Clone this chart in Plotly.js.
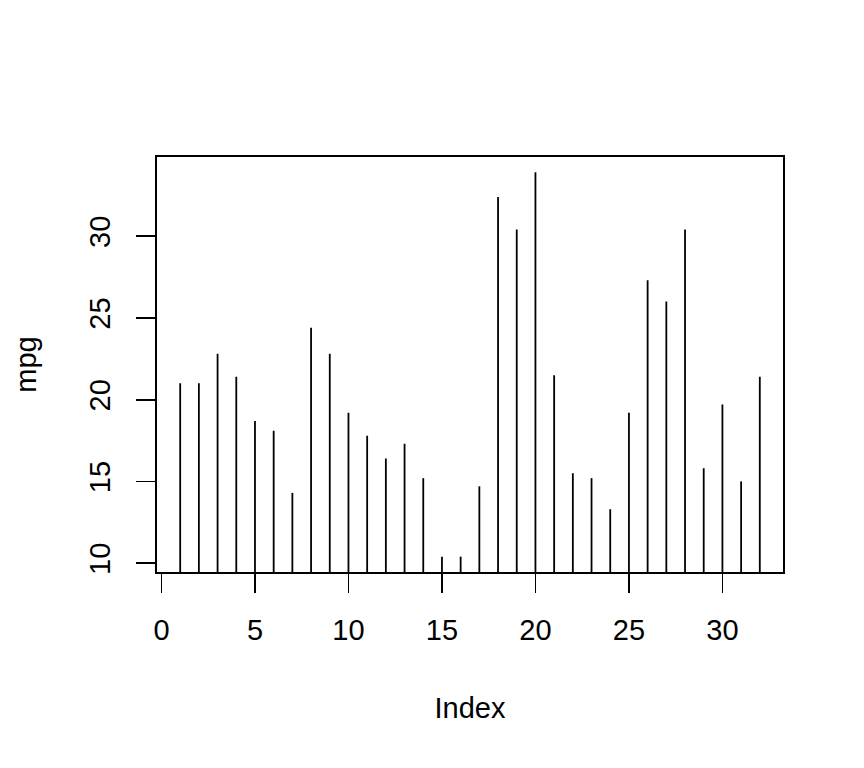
<!DOCTYPE html>
<html>
<head>
<meta charset="utf-8">
<script src="https://cdn.plot.ly/plotly-3.0.1.min.js"></script>
<style>html,body{margin:0;padding:0;background:#fff;}#chart{width:864px;height:768px;}</style>
</head>
<body>
<div id="chart"></div>
<script>
// mtcars mpg, plotted against its index with type = "h"
const index = Array.from({length: 32}, (_, i) => i + 1);
const mpg = [21.0, 21.0, 22.8, 21.4, 18.7, 18.1, 14.3, 24.4, 22.8, 19.2, 17.8, 16.4, 17.3, 15.2, 10.4, 10.4,
             14.7, 32.4, 30.4, 33.9, 21.5, 15.5, 15.2, 13.3, 19.2, 27.3, 26.0, 30.4, 15.8, 19.7, 15.0, 21.4];
const xTicks = [0, 5, 10, 15, 20, 25, 30];
const yTicks = [10, 15, 20, 25, 30];
const xLabel = "Index";
const yLabel = "mpg";

// vertical segments from 0 up to each value
const segX = [], segY = [];
index.forEach((x, i) => { segX.push(x, x, null); segY.push(0, mpg[i], null); });

const font = {family: "Liberation Sans, Arial, Helvetica, sans-serif", size: 29, color: "#000"};

Plotly.newPlot("chart", [{
  type: "scatter", mode: "lines", x: segX, y: segY,
  line: {color: "#000", width: 1.8}, hoverinfo: "skip", connectgaps: false
}], {
  width: 864, height: 768,
  margin: {l: 157, r: 81, t: 157, b: 196},
  paper_bgcolor: "#fff", plot_bgcolor: "#fff",
  font: font,
  showlegend: false,
  xaxis: {
    range: [-0.24, 33.24], tickvals: xTicks, ticktext: xTicks.map(String),
    showgrid: false, zeroline: false, showline: true, mirror: true,
    linecolor: "#000", linewidth: 1.6,
    ticks: "outside", ticklen: 19, tickwidth: 1.7, tickcolor: "#000",
    ticklabelstandoff: 13, tickfont: font,
    title: {text: xLabel, font: font, standoff: 52},
    automargin: false
  },
  yaxis: {
    range: [9.46, 34.84], tickvals: yTicks, ticktext: yTicks.map(String),
    showgrid: false, zeroline: false, showline: true, mirror: true,
    linecolor: "#000", linewidth: 1.6,
    ticks: "outside", ticklen: 19, tickwidth: 1.7, tickcolor: "#000",
    tickangle: -90, ticklabelstandoff: 15, tickfont: font,
    title: {text: yLabel, font: font, standoff: 38},
    automargin: false
  }
}, {displayModeBar: false, staticPlot: true});
</script>
</body>
</html>
